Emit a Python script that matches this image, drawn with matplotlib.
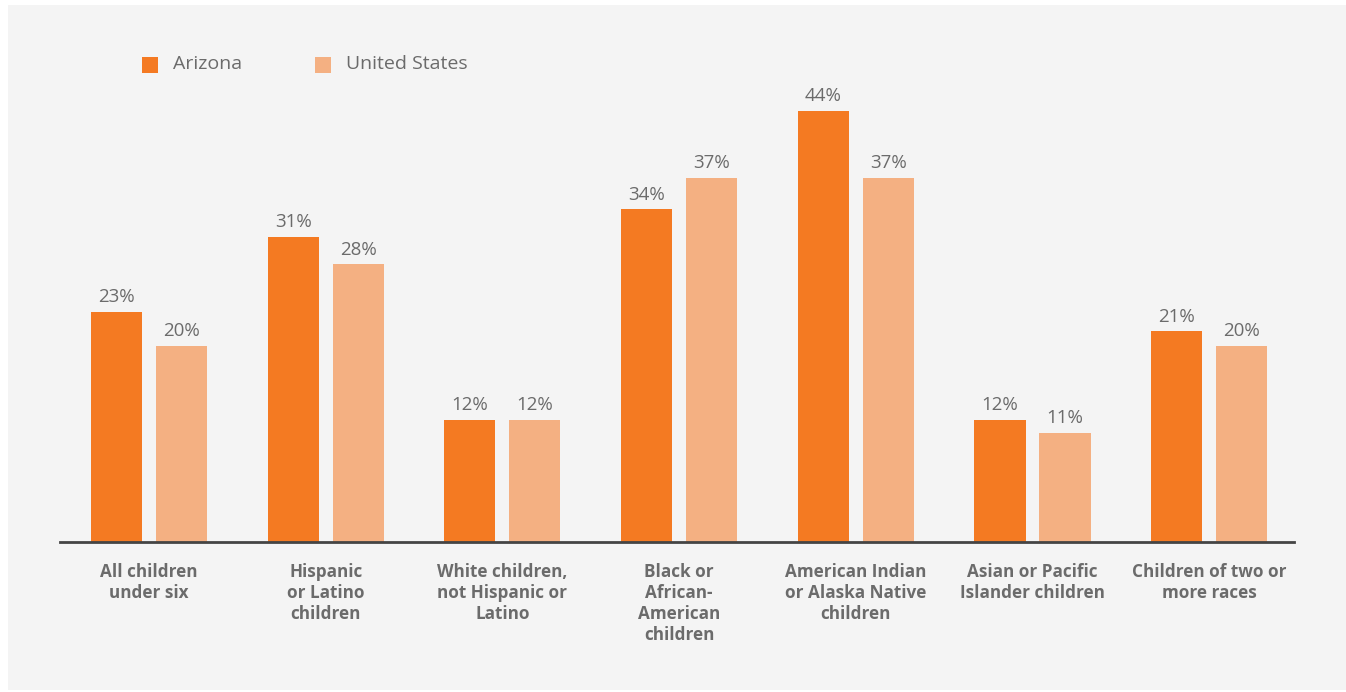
import matplotlib.pyplot as plt
from matplotlib.patches import Rectangle
import numpy as np

# categorias e valores (percentual)
categorias = ['All children\nunder six', 'Hispanic\nor Latino\nchildren',
              'White children,\nnot Hispanic or\nLatino', 'Black or\nAfrican-\nAmerican\nchildren',
              'American Indian\nor Alaska Native\nchildren', 'Asian or Pacific\nIslander children',
              'Children of two or\nmore races']
arizona = [23.4, 31.0, 12.4, 33.8, 43.8, 12.4, 21.4]
estados_unidos = [19.9, 28.2, 12.4, 37.0, 37.0, 11.1, 19.9]
series = ['Arizona', 'United States']

cor_az = '#F47A22'
cor_us = '#F4B082'
cinza = '#6b6b6b'
fundo = '#f4f4f4'

plt.rcParams['font.family'] = ['Open Sans', 'DejaVu Sans']

W, H = 1346, 692
fig = plt.figure(figsize=(W/100, H/100), dpi=100)
fig.patch.set_facecolor('white')
# painel cinza de fundo
fig.patches.append(Rectangle((8/W, 1 - 690/H), 1 - 8/W, (690 - 5)/H,
                             transform=fig.transFigure, facecolor=fundo, edgecolor='none', zorder=-10))

# eixo: linha base em y=542, de x=60 ate 1294
ax = fig.add_axes([60/W, 1 - 542/H, (1294 - 60)/W, (542 - 50)/H])
ax.set_facecolor('none')

x = np.arange(len(categorias))
larg = 0.289
desl = 0.184
b1 = ax.bar(x - desl, arizona, larg, color=cor_az, zorder=2)
b2 = ax.bar(x + desl, estados_unidos, larg, color=cor_us, zorder=2)

for barras in (b1, b2):
    for b in barras:
        v = b.get_height()
        ax.annotate('%d%%' % round(v), (b.get_x() + b.get_width()/2, v),
                    xytext=(0, 4), textcoords='offset points', ha='center', va='bottom',
                    fontsize=13.5, color=cinza)

ax.set_xlim((60 - 149)/176.7, (1294 - 149)/176.7)
ax.set_ylim(0, 492/9.85)
for s in ['top', 'right', 'left']:
    ax.spines[s].set_visible(False)
ax.spines['bottom'].set_color('#444444')
ax.spines['bottom'].set_linewidth(2)
ax.spines['bottom'].set_zorder(3)
ax.set_yticks([])
ax.set_xticks(x)
ax.set_xticklabels(categorias, fontsize=12.3, fontweight='bold', color=cinza, linespacing=1.22)
ax.tick_params(axis='x', length=0, pad=15)

# legenda manual
for i, (nome, cor) in enumerate(zip(series, [cor_az, cor_us])):
    x0 = [142, 315][i]
    fig.patches.append(Rectangle((x0/W, 1 - 73/H), 16/W, 16/H, transform=fig.transFigure,
                                 facecolor=cor, edgecolor='none'))
    fig.text((x0 + 31)/W, 1 - 64/H, nome, fontsize=14, color=cinza, va='center', ha='left')

fig.savefig('out.png', dpi=100, facecolor=fig.get_facecolor())
